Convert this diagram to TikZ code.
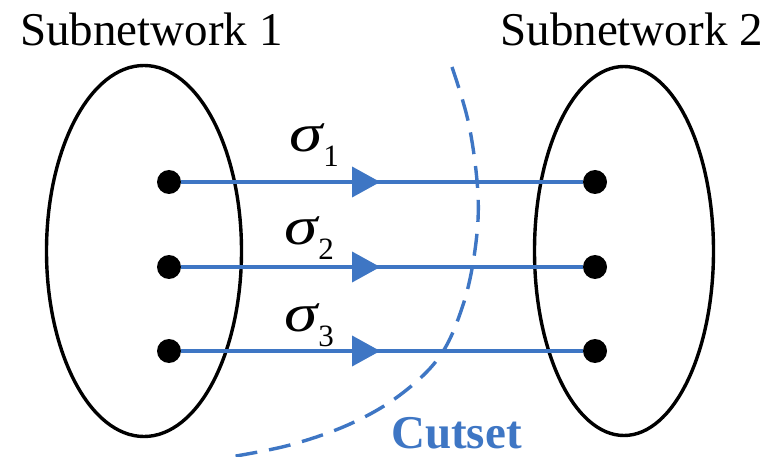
\documentclass[tikz,border=0pt]{standalone}
\usepackage{fontspec}
\usepackage{graphicx}
\setmainfont{Liberation Serif}
\usetikzlibrary{shapes.geometric,decorations.markings,arrows.meta}
\definecolor{cutblue}{RGB}{62,118,196}
\newcommand{\sigmalbl}[1]{\scalebox{1.25}[1]{σ}\hspace{1pt}\raisebox{-15pt}{\fontsize{31}{31}\selectfont\upshape #1}}
\begin{document}
\begin{tikzpicture}[x=1pt,y=-1pt,
  subnet/.style={draw=black,line width=3.4pt,ellipse,inner sep=0pt},
  dotnode/.style={circle,fill=black,inner sep=0pt,minimum size=24pt},
  flow/.style={draw=cutblue,line width=3.2pt,postaction={decorate},
    decoration={markings,mark=at position 199pt with {\arrow{Triangle[length=28pt,width=30pt]}}}},
  title/.style={font=\fontsize{47}{50}\selectfont,inner sep=0pt},
  siglabel/.style={font=\fontsize{54}{54}\selectfont\itshape,inner sep=0pt,anchor=base west},
  cutline/.style={draw=cutblue,line width=3.4pt,dash pattern=on 22pt off 12pt}]
\useasboundingbox (0,0) rectangle (782,457);
\fill[white] (0,0) rectangle (782,457);

% titles
\node[title,anchor=base west] (t1) at (20,46) {Subnetwork 1};
\node[title,anchor=base east] (t2) at (763,46) {Subnetwork 2};

% subnetworks
\node[subnet,minimum width=195pt,minimum height=371pt] (s1) at (144,251) {};
\node[subnet,minimum width=179pt,minimum height=369pt] (s2) at (624,251) {};

% dots
\node[dotnode] (l1) at (169,182) {};
\node[dotnode] (l2) at (169,267) {};
\node[dotnode] (l3) at (169,351) {};
\node[dotnode] (r1) at (595,182) {};
\node[dotnode] (r2) at (595,267) {};
\node[dotnode] (r3) at (595,351) {};

% flows
\draw[flow] (l1) -- (r1);
\draw[flow] (l2) -- (r2);
\draw[flow] (l3) -- (r3);

% labels
\node[siglabel] (g1) at (289,152) {\sigmalbl{1}};
\node[siglabel] (g2) at (284,245) {\sigmalbl{2}};
\node[siglabel] (g3) at (284,331) {\sigmalbl{3}};

% cutset
\draw[cutline] plot[smooth,tension=0.6] coordinates {(452,67) (469,125) (478,195) (475,250) (463,305) (440,356) (400,395) (350,424) (290,445) (230,457)};
\node[font=\bfseries\fontsize{47}{50}\selectfont,text=cutblue,inner sep=0pt,anchor=base west] (cut) at (391,448) {Cutset};
\end{tikzpicture}
\end{document}
